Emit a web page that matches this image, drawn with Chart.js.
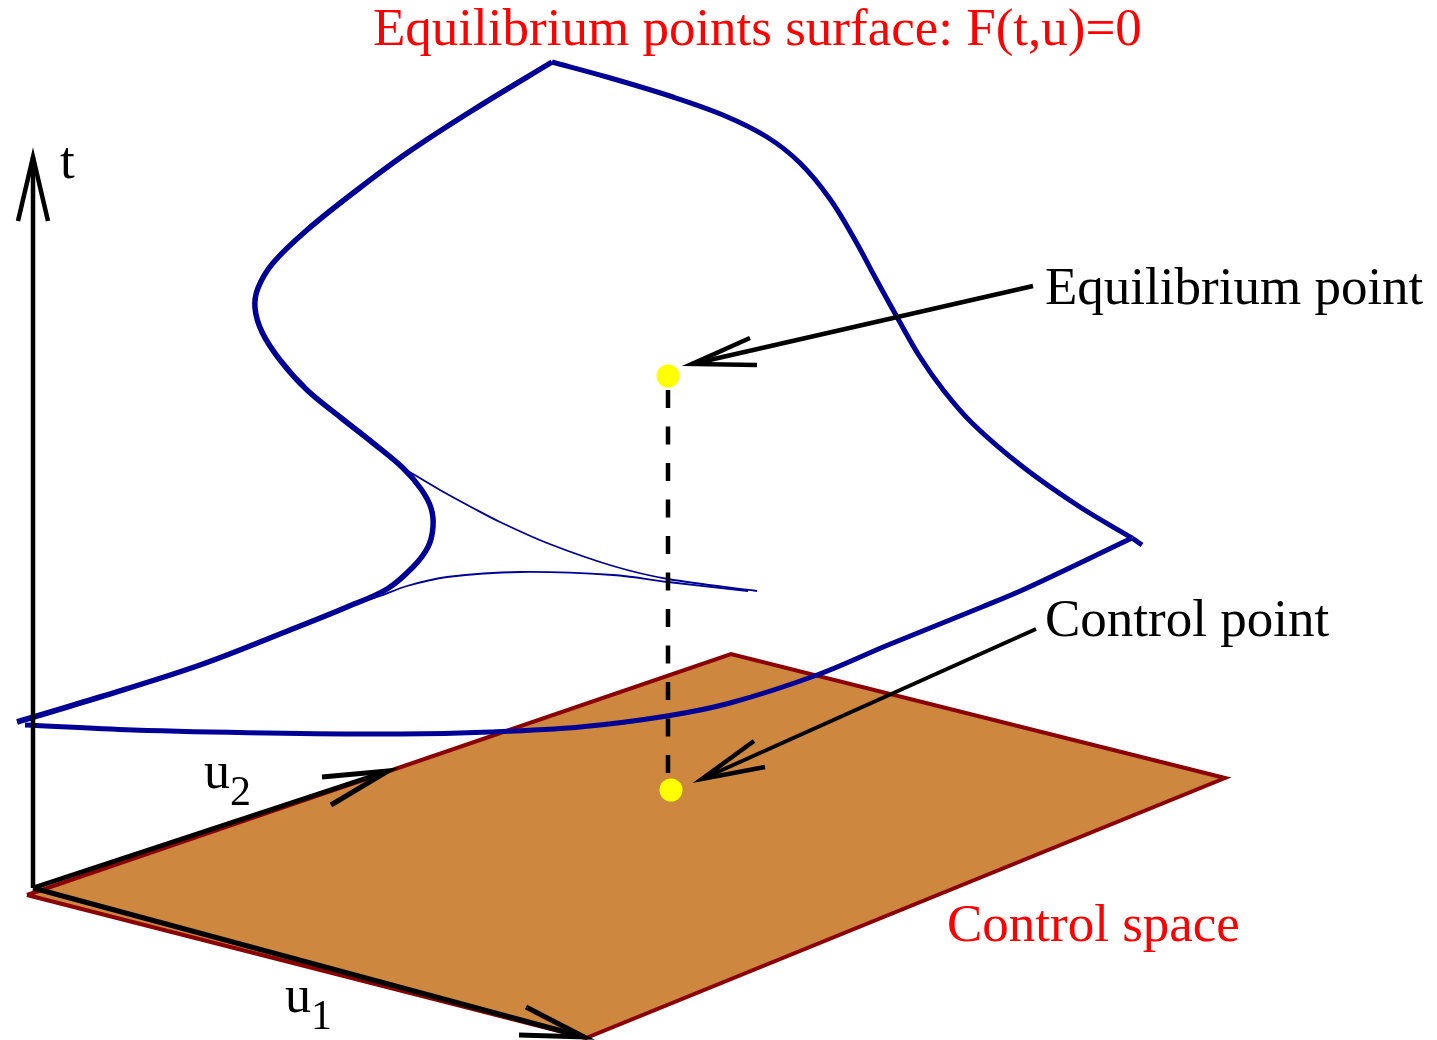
<!DOCTYPE html>
<html>
<head>
<meta charset="utf-8">
<script src="https://cdn.jsdelivr.net/npm/chart.js@4.4.1/dist/chart.umd.min.js"></script>
<style>
body { margin: 0; background: #fff; }
#wrap { width: 1437px; height: 1040px; }
</style>
</head>
<body>
<div id="wrap"><canvas id="diagram"></canvas></div>
<script>
// control plane (parallelogram) corners
const planeCorners = [[27,895],[731,654],[1225,778],[586,1038],[27,895]];

// t, u1, u2 axes and their arrow heads
const tAxis = [[33,888],[33,157]];
const tHead = [[18,221],[33,157],[48,221]];
const u2Axis = [[33,888],[388,771]];
const u2Head = [[322,777],[388,771],[331,805]];
const u1Axis = [[33,888],[584,1037]];
const u1Head = [[519,1035],[584,1037],[526,1007]];

// equilibrium surface outline
const surfaceLeft = [[17,722],[100,697],[200,665],[290,630],[347,607],[387,589],[413,567],[428,547],
  [433,527],[431,508],[421,489],[403,468],[373,443],[340,417],[307,390],[280,360],[262,332],
  [255,308],[258,288],[273,263],[307,230],[357,190],[407,153],[473,110],[552,62]];
const surfaceRight = [[552,62],[607,77],[673,97],[723,115],[767,137],[800,163],[830,199],
  [855,240],[876,279],[897,317],[920,357],[944,391],[973,424],[1023,467],[1080,507],[1132,538]];
const surfaceBottom = [[1132,538],[1027,588],[982,607],[888,645],[817,675],[730,703],
  [667,716],[580,727],[490,732],[400,734],[267,733],[133,730],[25,725]];
const surfaceTick = [[1132,538],[1142,545]];

// fold lines (thin)
const foldUpper = [[403,468],[440,490],[473,508],[500,522],[547,543],[613,566],[668,579],[757,591]];
const foldLower = [[347,607],[380,596],[407,586],[447,577],[520,572],[613,575],[668,582],[748,591]];

// projection and marked points
const projection = [[668,390],[668,780]];
const equilibriumPoint = [[668,376]];
const controlPoint = [[671,790]];

// callout arrows
const eqArrow = [[1033,286],[692,364]];
const eqHead = [[750,338],[692,364],[757,365]];
const cpArrow = [[1036,629],[702,779]];
const cpHead = [[754,741],[702,779],[765,767]];

const labels = [
  { text: 'Equilibrium points surface: F(t,u)=0', x: 373, y: 45, color: '#ff0000', size: 53 },
  { text: 't', x: 60, y: 178, color: '#000', size: 53 },
  { text: 'Equilibrium point', x: 1045, y: 304, color: '#000', size: 53 },
  { text: 'Control point', x: 1045, y: 636, color: '#000', size: 53 },
  { text: 'Control space', x: 947, y: 941, color: '#ff0000', size: 53 },
  { text: 'u', x: 204, y: 788, color: '#000', size: 52 },
  { text: '2', x: 230, y: 805, color: '#000', size: 42 },
  { text: 'u', x: 285, y: 1012, color: '#000', size: 52 },
  { text: '1', x: 311, y: 1029, color: '#000', size: 42 }
];

const pts = arr => arr.map(p => ({ x: p[0], y: p[1] }));
const BLUE = '#000096';

function line(data, color, width, extra) {
  return Object.assign({
    data: pts(data),
    showLine: true,
    borderColor: color,
    borderWidth: width,
    pointRadius: 0,
    tension: 0,
    fill: false,
    order: 3
  }, extra || {});
}

const labelPlugin = {
  id: 'labels',
  afterDatasetsDraw(chart) {
    const ctx = chart.ctx;
    const xs = chart.scales.x, ys = chart.scales.y;
    ctx.save();
    ctx.textBaseline = 'alphabetic';
    ctx.textAlign = 'left';
    labels.forEach(l => {
      ctx.font = l.size + 'px "Liberation Serif", "Times New Roman", serif';
      ctx.fillStyle = l.color;
      ctx.fillText(l.text, xs.getPixelForValue(l.x), ys.getPixelForValue(l.y));
    });
    ctx.restore();
  }
};

const ctx = document.getElementById('diagram').getContext('2d');
new Chart(ctx, {
  type: 'scatter',
  data: {
    datasets: [
      line(planeCorners, '#8b0000', 4, { fill: 'shape', backgroundColor: '#cd873f', order: 10 }),
      line(surfaceLeft, BLUE, 5.5, { tension: 0.35, order: 6 }),
      line(surfaceRight, BLUE, 5, { tension: 0.35, order: 6 }),
      line(surfaceBottom, BLUE, 5, { tension: 0.35, order: 6 }),
      line(surfaceTick, BLUE, 5, { order: 6 }),
      line(foldUpper, BLUE, 1.8, { tension: 0.35, order: 6 }),
      line(foldLower, BLUE, 1.8, { tension: 0.35, order: 6 }),
      line(projection, '#000', 4.5, { borderDash: [18, 18.5], order: 5 }),
      line(tAxis, '#000', 4.5),
      line(tHead, '#000', 4.5, { borderJoinStyle: 'miter' }),
      line(u2Axis, '#000', 5),
      line(u2Head, '#000', 5, { borderJoinStyle: 'miter' }),
      line(u1Axis, '#000', 5),
      line(u1Head, '#000', 5, { borderJoinStyle: 'miter' }),
      line(eqArrow, '#000', 4.5),
      line(eqHead, '#000', 4.5, { borderJoinStyle: 'miter' }),
      line(cpArrow, '#000', 4),
      line(cpHead, '#000', 4.5, { borderJoinStyle: 'miter' }),
      { data: pts(equilibriumPoint), pointRadius: 11.5, backgroundColor: '#ffff00', borderWidth: 0, order: 1 },
      { data: pts(controlPoint), pointRadius: 11.5, backgroundColor: '#ffff00', borderWidth: 0, order: 1 }
    ]
  },
  options: {
    responsive: true,
    maintainAspectRatio: false,
    animation: false,
    layout: { padding: 0, autoPadding: false },
    plugins: { legend: { display: false }, tooltip: { enabled: false } },
    scales: {
      x: { type: 'linear', min: 0, max: 1437, display: false },
      y: { type: 'linear', min: 0, max: 1040, reverse: true, display: false }
    }
  },
  plugins: [labelPlugin]
});
</script>
</body>
</html>
